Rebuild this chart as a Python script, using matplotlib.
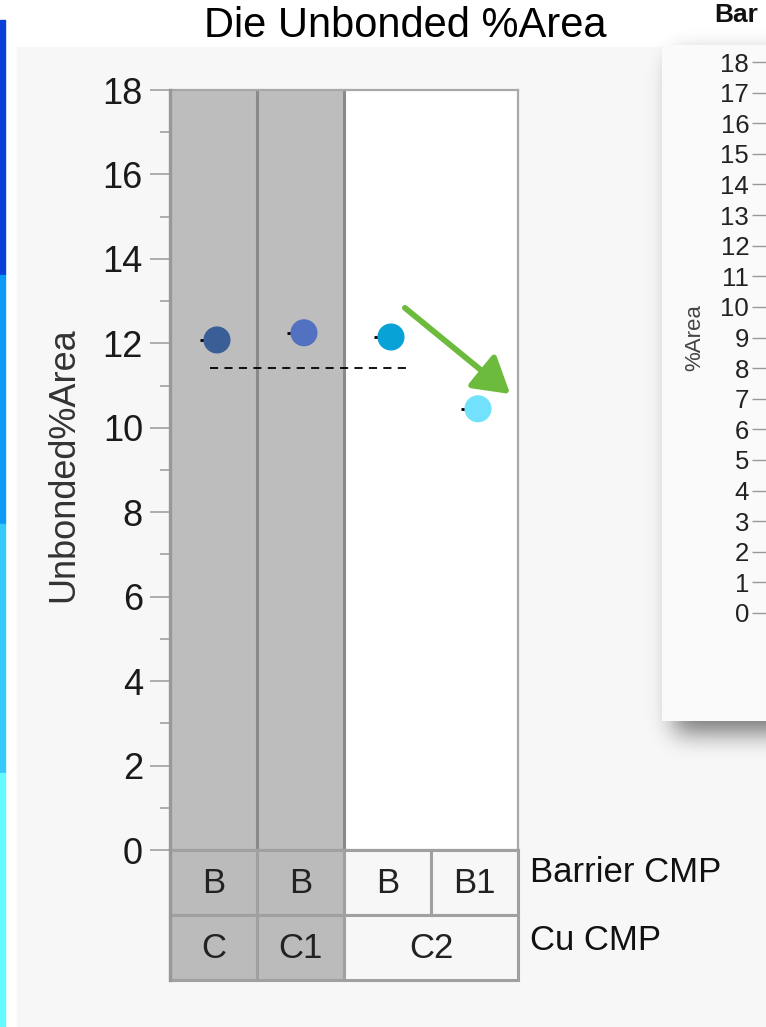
import numpy as np
import matplotlib.pyplot as plt
from matplotlib.patches import Rectangle

W, H = 766, 1027

# data
columns = [0, 1, 2, 3]
barrier_labels = ['B', 'B', 'B', 'B1']
cu_labels = ['C', 'C1', 'C2']
cu_spans = [(0, 1), (1, 2), (2, 4)]
unbonded = [12.08, 12.25, 12.15, 10.45]
point_colors = ['#3a5f97', '#5271c0', '#08a2d6', '#72e2fc']
grand_mean = 11.42
mean_line_x = [-0.04, 2.22]
arrow_from = (2.20, 12.84)
arrow_to = (3.41, 10.80)
y_ticks = list(range(0, 19, 2))
y_minor = list(range(1, 18, 2))
panel_ticks = list(range(0, 19))

plt.rcParams['font.family'] = ['Liberation Sans', 'DejaVu Sans']


def fx(px):
    return px / W


def fy(py):
    return 1 - py / H


def phi(z):
    # smooth step used for the soft panel shadow
    return 0.5 * (1 + np.tanh(0.7979 * (z + 0.044715 * z ** 3)))


fig = plt.figure(figsize=(W / 100, H / 100), dpi=100)
fig.patch.set_facecolor('white')

# light background panel and the blue strip on the left edge
fig.patches.append(Rectangle((fx(17), 0), fx(W - 17), (H - 47) / H,
                             transform=fig.transFigure, color='#f7f7f7', zorder=-2))
strip = [(20, 275, '#0a3fd8'), (275, 524, '#0a9af5'), (524, 773, '#35c8fa'), (773, 1027, '#62fbff')]
for top, bot, c in strip:
    fig.patches.append(Rectangle((0, fy(bot)), fx(5), (bot - top) / H,
                                 transform=fig.transFigure, color=c, zorder=-1))

# main plot
ax = fig.add_axes([fx(170), fy(850), fx(348), 760 / H])
ax.set_zorder(5)
ax.set_facecolor('white')
ax.set_xlim(-0.5, 3.5)
ax.set_ylim(0, 18)
ax.axvspan(-0.5, 1.5, color='#bdbdbd', zorder=0)
for xb in [0.5, 1.5]:
    ax.axvline(xb, color='#8a8a8a', lw=2.2, zorder=1)

for s in ['top', 'right', 'bottom']:
    ax.spines[s].set_color('#a8a8a8')
    ax.spines[s].set_linewidth(1.6)
ax.spines['left'].set_visible(False)

ax.set_xticks([])
ax.set_yticks(y_ticks)
ax.set_yticks(y_minor, minor=True)
ax.tick_params(axis='y', which='major', length=14.5, width=1.2, color='#a0a0a0',
               labelsize=26, labelcolor='#1a1a1a', pad=5)
ax.tick_params(axis='y', which='minor', length=7.5, width=1.2, color='#a0a0a0')

for i, v in enumerate(unbonded):
    ax.plot([columns[i] - 0.16, columns[i] - 0.1], [v, v], color='black', lw=2, zorder=3,
            solid_capstyle='butt')
ax.scatter([c + 0.04 for c in columns], unbonded, s=19.5 ** 2, c=point_colors,
           edgecolors='none', zorder=4)

ax.plot(mean_line_x, [grand_mean, grand_mean], color='black', lw=1.3,
        dashes=(4.5, 3.5), zorder=3)

ax.annotate('', xy=arrow_to, xytext=arrow_from,
            arrowprops=dict(arrowstyle='-|>,head_length=0.6,head_width=0.36',
                            color='#6cbb3c', lw=4.2, mutation_scale=36,
                            shrinkA=0, shrinkB=0),
            annotation_clip=False, zorder=5)

# left spine drawn over the whole chart including the table
fig.add_artist(plt.Line2D([fx(170), fx(170)], [fy(90), fy(980)], transform=fig.transFigure,
                          color='#989898', lw=2.4, zorder=10))

# category table
tab = fig.add_axes([fx(170), fy(980), fx(348), 130 / H])
tab.set_zorder(5)
tab.set_xlim(-0.5, 3.5)
tab.set_ylim(0, 2)
tab.axis('off')
cell_face = ['#bbbbbb', '#bbbbbb', '#f7f7f7', '#f7f7f7']
for i, lab in enumerate(barrier_labels):
    tab.add_patch(Rectangle((i - 0.5, 1), 1, 1, facecolor=cell_face[i],
                            edgecolor='#a0a0a0', lw=2.2, clip_on=False))
    tab.text(i, 1.48, lab, ha='center', va='center', fontsize=25, color='#222222')
for lab, (a, b) in zip(cu_labels, cu_spans):
    tab.add_patch(Rectangle((a - 0.5, 0), b - a, 1, facecolor=cell_face[a],
                            edgecolor='#a0a0a0', lw=2.2, clip_on=False))
    tab.text((a + b - 1) / 2, 0.48, lab, ha='center', va='center', fontsize=25, color='#222222')

fig.text(fx(530), fy(873), 'Barrier CMP', ha='left', va='center', fontsize=25, color='#111111')
fig.text(fx(530), fy(940), 'Cu CMP', ha='left', va='center', fontsize=25, color='#111111')

fig.text(fx(64), fy(465), 'Unbonded%Area', rotation=90, ha='center', va='center',
         fontsize=26, color='#333333')
fig.text(fx(405), fy(26), 'Die Unbonded %Area', ha='center', va='center', fontsize=30,
         color='black')

# overlapping second panel on the right, with a soft shadow
x0, x1, y0, y1 = 600, W, 20, 790
xx, yy = np.meshgrid(np.arange(x0, x1) + 0.5, np.arange(y0, y1) + 0.5)
sig = 12.0
inten = phi((xx - 674) / sig) * phi((yy - 57) / sig) * phi((733 - yy) / sig)
shadow = np.zeros((y1 - y0, x1 - x0, 4))
shadow[..., 3] = 0.52 * inten
im = fig.figimage(shadow, xo=x0, yo=H - y1, origin='upper')
im.set_zorder(3)

pan = fig.add_axes([fx(662), fy(721), fx(W - 662), (721 - 45) / H])
pan.set_zorder(6)
pan.set_facecolor('#fafafa')
pan.set_xticks([])
pan.set_yticks([])
for s in pan.spines.values():
    s.set_visible(False)

sc = fig.add_axes([fx(770), fy(613), 0.01, (613 - 62) / H])
sc.set_zorder(7)
sc.patch.set_alpha(0)
sc.set_ylim(0, 18)
sc.set_xticks([])
sc.set_yticks(panel_ticks)
for s in sc.spines.values():
    s.set_visible(False)
sc.tick_params(axis='y', length=13, width=1, color='#999999', labelsize=18.5,
               labelcolor='#222222', pad=2)
fig.text(fx(695), fy(338), '%Area', rotation=90, ha='center', va='center', fontsize=16,
         color='#444444', zorder=8)
fig.text(fx(714), fy(22), 'Bar', ha='left', va='baseline', fontsize=19, fontweight='bold',
         color='#111111')

fig.savefig('out.png', dpi=100)
